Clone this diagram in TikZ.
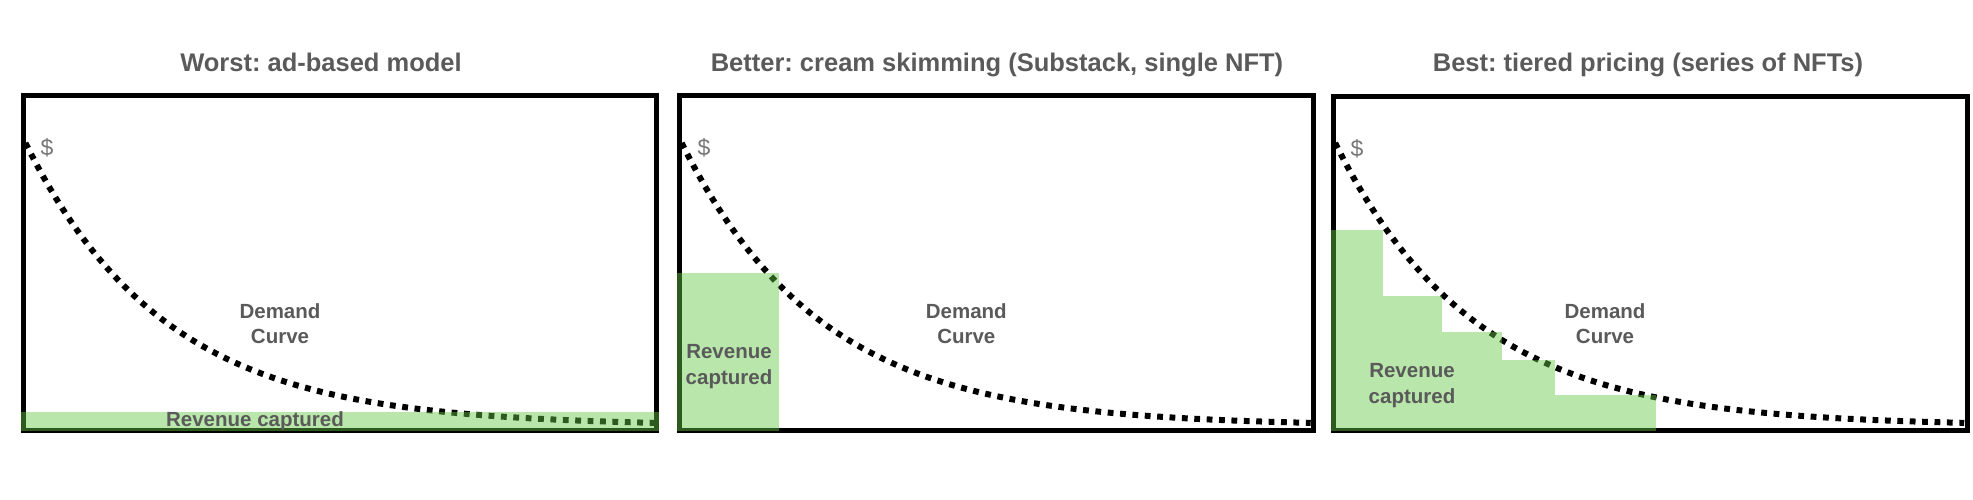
\documentclass[tikz,border=0pt]{standalone}
\usepackage{fontspec}
\setmainfont{Liberation Sans}
\frenchspacing
\definecolor{txtgray}{HTML}{5A5A5A}
\definecolor{dollargray}{HTML}{777777}
\definecolor{revgreen}{RGB}{100,200,67}
\begin{document}
\begin{tikzpicture}[x=1pt,y=-1pt,
  panel/.style={draw=black,line width=5pt},
  demand/.style={draw=black,line width=6pt,dash pattern=on 5.8pt off 6.6pt},
  revenue/.style={fill=revgreen,fill opacity=0.45,draw=none},
  title/.style={font=\fontsize{25.5}{30}\selectfont\bfseries,text=txtgray,inner sep=0pt,anchor=base},
  lbl/.style={font=\fontsize{20.5}{25.4}\selectfont\bfseries,text=txtgray,inner sep=0pt,align=center,anchor=north},
  dollar/.style={font=\fontsize{23}{27}\selectfont,text=dollargray,inner sep=0pt}]
\useasboundingbox (0,0) rectangle (1973,500);

% panel frames
\draw[panel] (23.5,96) rectangle (656.5,430.5);
\draw[panel] (679.7,96) rectangle (1313.3,430.5);
\draw[panel] (1333.2,96.5) rectangle (1967.5,430.7);

% demand curves
\foreach \L in {23.5,679.7,1333.2}{
  \draw[demand] plot[domain=2:631,samples=220,smooth] ({\L+\x},{426-283*exp(-(\x-2)/140)});
}

% revenue captured areas
\fill[revenue] (21,411.5) rectangle (659,430.5);
\fill[revenue] (677.2,272.5) rectangle (779.3,430.5);
\fill[revenue] (1331,230) rectangle (1383.3,430.7);
\fill[revenue] (1383.3,296) rectangle (1441.7,430.7);
\fill[revenue] (1441.7,331.7) rectangle (1502.3,430.7);
\fill[revenue] (1502.3,360) rectangle (1555,430.7);
\fill[revenue] (1555,395) rectangle (1656,430.7);

% titles
\node[title] (t1) at (321,71.7) {Worst: ad-based model};
\node[title] (t2) at (997,71.7) {Better: cream skimming (Substack, single NFT)};
\node[title] (t3) at (1648,71.7) {Best: tiered pricing (series of NFTs)};

% dollar signs
\node[dollar] (s1) at (47,148) {\$};
\node[dollar] (s2) at (704,148) {\$};
\node[dollar] (s3) at (1357,148.5) {\$};

% demand curve labels
\node[lbl] (d1) at (280,303.3) {Demand\\Curve};
\node[lbl] (d2) at (966.3,303.3) {Demand\\Curve};
\node[lbl] (d3) at (1605,303.3) {Demand\\Curve};

% revenue labels
\node[lbl,anchor=base] (r1) at (255,426.5) {Revenue captured};
\node[lbl] (r2) at (729,344.4) {Revenue\\captured};
\node[lbl] (r3) at (1412,363.3) {Revenue\\captured};
\end{tikzpicture}
\end{document}
